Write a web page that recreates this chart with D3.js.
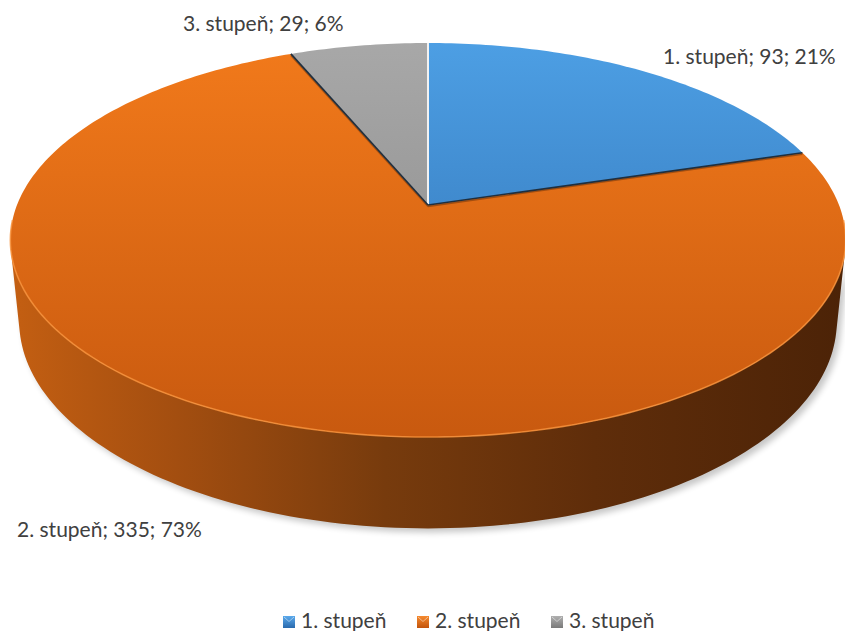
<!DOCTYPE html>
<html><head><meta charset="utf-8">
<script src="https://cdn.jsdelivr.net/npm/d3@7"></script>
<style>html,body{margin:0;padding:0;background:#fff;}svg{display:block;}</style>
</head><body>
<svg id="chart" width="845" height="631"></svg>
<script>
const categories = ["1. stupeň", "2. stupeň", "3. stupeň"];
const values = [93, 335, 29];
const percentLabels = ["21%", "73%", "6%"];
const topColors = [["#4d9fe4", "#2d6cae"], ["#f27a1b", "#c8590f"], ["#a8a8a8", "#868686"]];
const legendColors = [["#5aa9ec", "#2a6aad"], ["#f68a2e", "#c2540c"], ["#b0b0b0", "#7a7a7a"]];

const W = 845, H = 631;
const svg = d3.select("#chart");
const defs = svg.append("defs");

// perspective model of the pie disc
const cx = 428, cy = 205, A = 411, B = 190.8, K = 0.1777, hgt = 0.225;
const sinA = B / A, cosA = Math.sqrt(1 - sinA * sinA);
const D = cosA / K, F = A * D;
function proj(t, y) {
  const X = Math.sin(t), Z = Math.cos(t), Y = y;
  const depth = D - Y * sinA + Z * cosA;
  return [cx + F * X / depth, cy - F * (Y * cosA + Z * sinA) / depth];
}
function arcPts(t0, t1, y, n) {
  const pts = [];
  for (let i = 0; i <= n; i++) pts.push(proj(t0 + (t1 - t0) * i / n, y));
  return pts;
}

const pie = d3.pie().sort(null).value(d => d).startAngle(0).endAngle(2 * Math.PI);
const arcs = pie(values);

// gradients
topColors.forEach((c, i) => {
  const g = defs.append("linearGradient").attr("id", "top" + i)
    .attr("gradientUnits", "userSpaceOnUse").attr("x1", 0).attr("y1", 40).attr("x2", 0).attr("y2", 440);
  g.append("stop").attr("offset", 0).attr("stop-color", c[0]);
  g.append("stop").attr("offset", 1).attr("stop-color", c[1]);
});
const sg = defs.append("linearGradient").attr("id", "side")
  .attr("gradientUnits", "userSpaceOnUse").attr("x1", 10).attr("y1", 0).attr("x2", 845).attr("y2", 0);
[[0, "#c45f12"], [0.2, "#a34e10"], [0.45, "#773b0d"], [0.7, "#5f2d0a"], [1, "#4c2307"]]
  .forEach(s => sg.append("stop").attr("offset", s[0]).attr("stop-color", s[1]));
legendColors.forEach((c, i) => {
  const g = defs.append("linearGradient").attr("id", "leg" + i).attr("x1", 0).attr("y1", 0).attr("x2", 0).attr("y2", 1);
  g.append("stop").attr("offset", 0).attr("stop-color", c[0]);
  g.append("stop").attr("offset", 1).attr("stop-color", c[1]);
});
defs.append("filter").attr("id", "blur").attr("x", "-10%").attr("y", "-10%").attr("width", "120%").attr("height", "130%")
  .append("feGaussianBlur").attr("stdDeviation", 3);

const line = d3.line();

// side wall (visible part)
const ta = Math.acos(-1 / (D * cosA)), tb = 2 * Math.PI - ta;
const sidePts = arcPts(ta, tb, 0, 120).concat(arcPts(tb, ta, -hgt, 120));
svg.append("path").attr("d", line(sidePts) + "Z")
  .attr("transform", "translate(4,4)").attr("fill", "#000").attr("opacity", 0.22).attr("filter", "url(#blur)");
svg.append("path").attr("d", line(sidePts) + "Z").attr("fill", "url(#side)");

// top faces
arcs.forEach((a, i) => {
  const n = Math.max(8, Math.ceil((a.endAngle - a.startAngle) * 60));
  const pts = [[cx, cy]].concat(arcPts(a.startAngle, a.endAngle, 0, n));
  svg.append("path").attr("d", line(pts) + "Z").attr("fill", `url(#top${i})`);
});
// rim highlight on the front edge
svg.append("path").attr("d", line(arcPts(ta - 0.15, tb + 0.15, 0, 120)))
  .attr("fill", "none").attr("stroke", "#f8913a").attr("stroke-width", 1.6).attr("opacity", 0.8);

// slice edges
arcs.forEach((a, i) => {
  const p = proj(a.startAngle, 0);
  if (i === 0) {
    svg.append("line").attr("x1", cx).attr("y1", cy).attr("x2", p[0]).attr("y2", p[1])
      .attr("stroke", "#f2f2f2").attr("stroke-width", 2);
  } else {
    svg.append("line").attr("x1", cx).attr("y1", cy + 1.5).attr("x2", p[0]).attr("y2", p[1] + 1.5)
      .attr("stroke", "#7a3a0c").attr("stroke-width", 1.5).attr("opacity", 0.6);
    svg.append("line").attr("x1", cx).attr("y1", cy).attr("x2", p[0]).attr("y2", p[1])
      .attr("stroke", "#1f2f3f").attr("stroke-width", 1.6);
  }
});

// data labels
const fontFam = "Lato, 'Open Sans', sans-serif";
const labelPos = [[663, 64, "start"], [17, 537, "start"], [183, 31, "start"]];
arcs.forEach((a, i) => {
  svg.append("text").attr("x", labelPos[i][0]).attr("y", labelPos[i][1]).attr("text-anchor", labelPos[i][2])
    .attr("font-family", fontFam).attr("font-size", 21).attr("fill", "#404040")
    .text(`${categories[i]}; ${values[i]}; ${percentLabels[i]}`);
});

// legend
const legX = [283, 417, 551];
categories.forEach((c, i) => {
  const g = svg.append("g").attr("transform", `translate(${legX[i]},616)`);
  g.append("rect").attr("width", 12).attr("height", 12).attr("fill", `url(#leg${i})`);
  g.append("path").attr("d", "M1,1 L6,5.5 L11,1").attr("fill", "none").attr("stroke", "#fff").attr("stroke-width", 0.8).attr("opacity", 0.6);
  g.append("text").attr("x", 18).attr("y", 11.5).attr("font-family", fontFam).attr("font-size", 21).attr("fill", "#404040").text(c);
});
</script>
</body></html>
